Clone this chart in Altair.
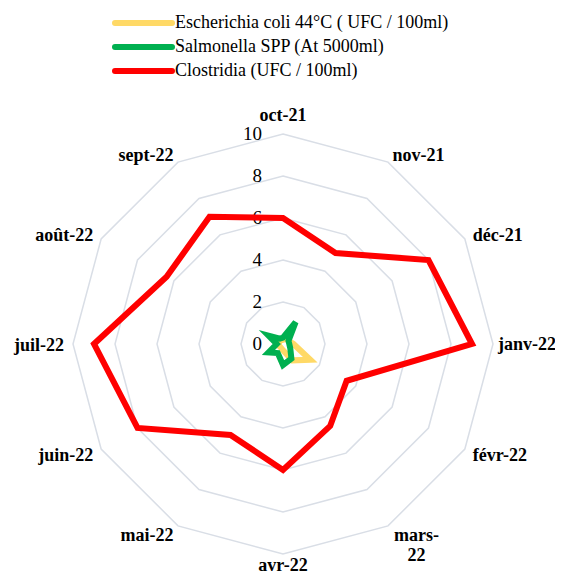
import math
import altair as alt
import pandas as pd

# ---------------- data ----------------
categories = ["oct-21", "nov-21", "déc-21", "janv-22", "févr-22", "mars-22",
              "avr-22", "mai-22", "juin-22", "juil-22", "août-22", "sept-22"]
category_labels = ["oct-21", "nov-21", "déc-21", "janv-22", "févr-22", "mars-\n22",
                   "avr-22", "mai-22", "juin-22", "juil-22", "août-22", "sept-22"]
series_names = ["Escherichia coli 44°C ( UFC / 100ml)",
                "Salmonella SPP (At 5000ml)",
                "Clostridia (UFC / 100ml)"]
series_colors = ["#FFD966", "#00B050", "#FF0000"]
ecoli = [0.2, 0.5, 0.3, 0.5, 1.5, 0.9, 0.3, 0.2, 0.2, 0.2, 0.2, 0.2]
salmonella = [0.3, 1.2, 0.3, 0.3, 0.4, 0.8, 1.0, 0.5, 0.8, 0.3, 0.8, 0.3]
clostridia = [6, 5, 8, 9, 3.5, 4.5, 6, 5, 8, 9, 6.4, 7]
radial_ticks = [0, 2, 4, 6, 8, 10]

# ---------------- layout ----------------
W, H = 547, 566          # whole drawing (autosize none, padding 0)
CX, CY = 275, 336        # centre of the radar in view pixels
K = 21.0                 # pixels per unit
XDOM = [-CX / K, (W - CX) / K]
YDOM = [-(H - CY) / K, CY / K]
N = len(categories)
LABEL_R = 10.43

xs = alt.Scale(domain=XDOM, nice=False, zero=False)
ys = alt.Scale(domain=YDOM, nice=False, zero=False)
color_scale = alt.Scale(domain=series_names, range=series_colors)

ANG = "datum.idx * 2 * PI / %d" % N

# series table
rows = []
for s, vals in zip(series_names, [ecoli, salmonella, clostridia]):
    for i, (c, v) in enumerate(zip(categories, vals)):
        rows.append({"series": s, "idx": i, "category": c, "value": v})
series_df = pd.DataFrame(rows)

ring_df = pd.DataFrame([{"ring": r, "idx": i} for r in radial_ticks[1:] for i in range(N)])
label_df = pd.DataFrame({"idx": list(range(N)), "label": category_labels})
tick_df = pd.DataFrame({"tick": radial_ticks})
legend_df = pd.DataFrame({"series": series_names, "row": list(range(len(series_names)))})

X = lambda: alt.X("x:Q", scale=xs, axis=None)
Y = lambda: alt.Y("y:Q", scale=ys, axis=None)

SERIF = "Liberation Serif, Times New Roman, serif"

# grid rings
rings = alt.Chart(ring_df).transform_calculate(
    x="datum.ring * sin(%s)" % ANG, y="datum.ring * cos(%s)" % ANG
).mark_line(interpolate="linear-closed", color="#D9DEE6", strokeWidth=1.5).encode(
    x=X(), y=Y(), detail="ring:N", order="idx:Q"
)

# radial tick labels
ticks = alt.Chart(tick_df).transform_calculate(
    x="0", y="datum.tick"
).mark_text(align="right", baseline="middle", dx=-21, font=SERIF,
            fontSize=19, color="#000000").encode(
    x=X(), y=Y(), text="tick:Q"
)

# series lines (one layer each to keep drawing order)
series_layers = []
for s in series_names:
    series_layers.append(
        alt.Chart(series_df).transform_filter(alt.datum.series == s).transform_calculate(
            x="datum.value * sin(%s)" % ANG, y="datum.value * cos(%s)" % ANG
        ).mark_line(interpolate="linear-closed", strokeWidth=6, strokeJoin="miter").encode(
            x=X(), y=Y(), order="idx:Q",
            color=alt.Color("series:N", scale=color_scale, legend=None)
        )
    )

# category labels
lab_base = alt.Chart(label_df).transform_calculate(
    x="%f * sin(%s)" % (LABEL_R, ANG), y="%f * cos(%s)" % (LABEL_R, ANG)
)
lab_style = dict(font=SERIF, fontSize=18, fontWeight="bold", color="#000000")
lab_right = lab_base.transform_filter("datum.idx >= 1 && datum.idx <= 4 && datum.idx != 3").mark_text(
    align="left", baseline="middle", dy=2, **lab_style).encode(x=X(), y=Y(), text="label:N")
lab_janv = lab_base.transform_filter("datum.idx == 3").mark_text(
    align="left", baseline="middle", dx=-4, dy=1, **lab_style).encode(x=X(), y=Y(), text="label:N")
lab_left = lab_base.transform_filter("datum.idx >= 7").mark_text(
    align="right", baseline="middle", dy=2, **lab_style).encode(x=X(), y=Y(), text="label:N")
lab_top = lab_base.transform_filter("datum.idx == 0").mark_text(
    align="center", baseline="bottom", dy=0, **lab_style).encode(x=X(), y=Y(), text="label:N")
lab_bottom = lab_base.transform_filter("datum.idx == 6").mark_text(
    align="center", baseline="top", dy=-6, **lab_style).encode(x=X(), y=Y(), text="label:N")
lab_wrap = lab_base.transform_filter("datum.idx == 5").mark_text(
    align="center", baseline="middle", dx=24, dy=2, lineBreak="\n", lineHeight=20,
    **lab_style).encode(x=X(), y=Y(), text="label:N")

# legend
LEG_X1 = (107 - CX) / K
LEG_X2 = (164 - CX) / K
LEG_TX = (167 - CX) / K
LEG_Y0 = (CY - 15) / K
LEG_DY = 24 / K
leg_base = alt.Chart(legend_df).transform_calculate(
    y="%f - datum.row * %f" % (LEG_Y0, LEG_DY), x="%f" % LEG_X1, x2="%f" % LEG_X2,
    tx="%f" % LEG_TX
)
leg_lines = leg_base.mark_rule(strokeWidth=6, strokeCap="round").encode(
    x=X(), x2="x2:Q", y=Y(),
    color=alt.Color("series:N", scale=color_scale, legend=None)
)
leg_text = leg_base.mark_text(align="left", baseline="middle", font=SERIF,
                              fontSize=18, color="#000000").encode(
    x=alt.X("tx:Q", scale=xs, axis=None), y=Y(), text="series:N"
)

chart = alt.layer(
    rings, ticks, *series_layers, lab_right, lab_janv, lab_left, lab_top, lab_bottom, lab_wrap,
    leg_lines, leg_text
).properties(
    width=W, height=H, autosize=alt.AutoSizeParams(type="none"), padding=0
).configure_view(stroke=None)

chart.save("out.html", embed_options={"renderer": "svg", "actions": False})
